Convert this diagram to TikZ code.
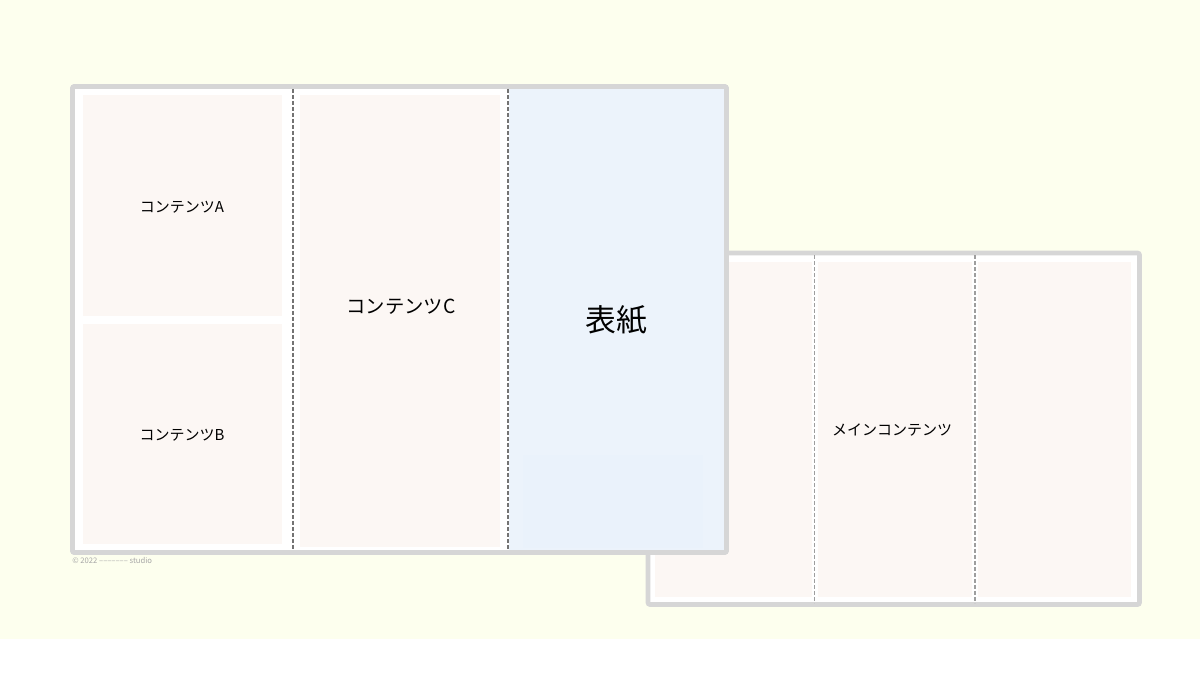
\documentclass[tikz,border=0pt]{standalone}
\usepackage{fontspec}
\setmainfont{Noto Sans CJK JP}
\usepackage{xcolor}

\definecolor{bgyellow}{HTML}{FDFFEE}
\definecolor{framegray}{HTML}{D6D6D6}
\definecolor{contentfill}{HTML}{FCF7F4}
\definecolor{coverfill}{HTML}{ECF3FB}
\definecolor{coverinner}{HTML}{EAF2FB}

\tikzset{
	frame/.style={draw=framegray, line width=2.8pt, fill=white, rounded corners=1.2pt},
	content/.style={fill=contentfill},
	fold/.style={draw=black!55, line width=0.8pt, dash pattern=on 2.4pt off 1.2pt},
	foldlight/.style={draw=black!38, line width=0.8pt, dash pattern=on 2.4pt off 1.2pt},
	label/.style={font=\fontsize{9}{11}\selectfont, inner sep=0pt},
}

\begin{document}
\begin{tikzpicture}[x=0.6pt, y=-0.6pt]
	\useasboundingbox (0,0) rectangle (1200,675);
	\fill[bgyellow] (0,0) rectangle (1200,639);

	% main contents sheet (behind)
	\begin{scope}
		\draw[frame] (648,253) rectangle (1139.5,604.5);
		\fill[content] (655,262) rectangle (812,597);
		\fill[content] (818,262) rectangle (972,597);
		\fill[content] (978,262) rectangle (1131,597);

		\coordinate (m1top) at (814.5,255);
		\coordinate (m1bot) at (814.5,603);
		\coordinate (m2top) at (975,255);
		\coordinate (m2bot) at (975,603);
		\draw[foldlight] (m1top) -- (m1bot);
		\draw[foldlight] (m2top) -- (m2bot);

		\node[label] (main) at (892,430) {メインコンテンツ};
	\end{scope}

	% cover sheet (front)
	\begin{scope}
		\draw[frame] (72.5,86.5) rectangle (726.5,552.5);
		\fill[coverfill] (509,88) rectangle (725,551);
		\fill[coverinner] (523,455) rectangle (703,548);
		\draw[framegray, line width=2.8pt, rounded corners=1.2pt] (72.5,86.5) rectangle (726.5,552.5);

		\fill[content] (83,95) rectangle (282,316);
		\fill[content] (83,324) rectangle (282,544);
		\fill[content] (300,95) rectangle (500,547);

		\coordinate (f1top) at (293,89);
		\coordinate (f1bot) at (293,550);
		\coordinate (f2top) at (508,89);
		\coordinate (f2bot) at (508,550);
		\draw[fold] (f1top) -- (f1bot);
		\draw[fold] (f2top) -- (f2bot);

		\node[label] (A) at (182,207) {コンテンツA};
		\node[label] (B) at (182,435) {コンテンツB};
		\node[label, font=\fontsize{11.6}{14}\selectfont] (C) at (401,307) {コンテンツC};
		\node[label, font=\fontsize{18.5}{22}\selectfont] (cover) at (616,320) {表紙};
	\end{scope}

	\node[anchor=west, inner sep=0pt, text=black!35, font=\fontsize{4.6}{5}\selectfont] (copy) at (72,560) {© 2022 ––––––– studio};
\end{tikzpicture}
\end{document}
